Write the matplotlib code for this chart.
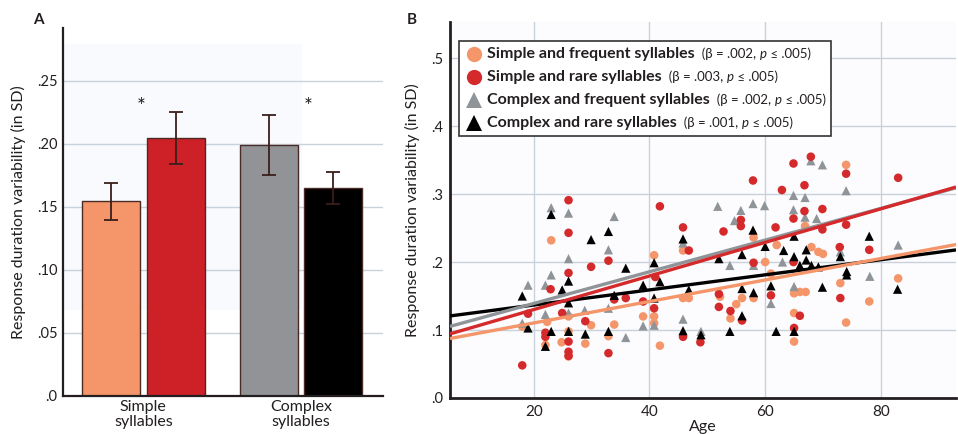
import numpy as np
import matplotlib
matplotlib.use("Agg")
import matplotlib.pyplot as plt
from matplotlib.patches import Rectangle
from matplotlib.lines import Line2D
from matplotlib.offsetbox import HPacker, VPacker, TextArea, DrawingArea, AnchoredOffsetbox

plt.rcParams['font.family'] = ['Lato', 'DejaVu Sans']

# ---------------- Panel A data ----------------
groups = ["Simple\nsyllables", "Complex\nsyllables"]
bar_means = [0.155, 0.205, 0.199, 0.165]
bar_err_low = [0.015, 0.021, 0.024, 0.013]
bar_err_high = [0.014, 0.020, 0.024, 0.013]
bar_colors = ["#f4956a", "#cd2027", "#929397", "#000000"]
a_yticks = [0.0, 0.05, 0.10, 0.15, 0.20, 0.25]
a_yticklabels = [".0", ".05", ".10", ".15", ".20", ".25"]

# ---------------- Panel B data (age, SD) ----------------
simple_frequent = [(18, .105), (23, .232), (22, .078), (22.3, .112), (24.8, .082), (26, .120), (26, .098),
                   (26, .061), (28.9, .080), (29.9, .107), (32.9, .091), (33.9, .108), (38.9, .120),
                   (40.8, .210), (40.8, .120), (40.8, .110), (41.8, .077), (45.8, .217), (45.8, .147),
                   (46.8, .147), (52.2, .149), (54, .117), (55, .138), (56, .147), (58, .236), (58, .147),
                   (60, .200), (61, .183), (62, .225), (65, .154), (65, .125), (65, .083), (66, .156),
                   (67, .156), (66.9, .253), (68, .222), (69.2, .215), (70, .212), (73, .169), (74, .343),
                   (74, .111), (78, .142), (83, .176)]
simple_rare = [(18, .048), (19, .124), (22.9, .160), (22, .096), (22, .090), (24.9, .125), (26, .291),
               (26, .243), (26, .184), (26, .083), (26, .068), (26, .062), (28.9, .113), (29.9, .193),
               (32.9, .202), (32.9, .066), (33.9, .145), (35.9, .147), (38.9, .142), (40.8, .132),
               (41, .178), (41.8, .282), (45.8, .251), (46.8, .217), (45.8, .090), (48.8, .082),
               (52, .153), (52, .134), (52.8, .245), (54, .128), (55.8, .262), (55.8, .253), (56, .114),
               (57.9, .320), (58, .199), (61, .151), (61.8, .251), (62.9, .306), (64.9, .345),
               (64.9, .264), (64.9, .200), (65, .103), (66, .121), (66.8, .313), (66.8, .275),
               (67.9, .355), (69.9, .278), (69.9, .248), (72.9, .222), (73, .147), (74, .330),
               (74, .255), (78, .218), (83, .324)]
complex_frequent = [(18, .110), (19, .166), (22, .166), (22, .123), (23, .181), (23, .280), (26, .272),
                    (26, .205), (26, .125), (28.8, .129), (32.9, .218), (32.9, .132), (33.9, .267),
                    (35.9, .089), (38.9, .106), (40.8, .107), (45.8, .116), (45.8, .228), (48.9, .098),
                    (51.8, .282), (53.9, .195), (54.7, .261), (55.8, .276), (57.9, .286), (58, .195),
                    (59.9, .283), (61, .139), (63, .200), (64.9, .298), (64.9, .277), (65, .164),
                    (66.9, .295), (66.9, .266), (67.9, .349), (68.9, .264), (69.9, .343), (73, .215),
                    (74, .305), (78.1, .179), (83, .225)]
complex_rare = [(18, .150), (19, .103), (23, .270), (22, .076), (23, .098), (24.9, .159), (26, .172),
                (26, .140), (26, .098), (28.9, .094), (29.9, .233), (32.9, .245), (32.9, .098),
                (33.9, .151), (35.9, .191), (38.9, .166), (40.8, .199), (40.8, .147), (41.8, .171),
                (45.8, .234), (45.8, .099), (46.8, .159), (48.9, .093), (52, .205), (53.9, .098),
                (56, .211), (56, .161), (56, .121), (57.9, .247), (58, .155), (60, .223), (61, .165),
                (61.9, .098), (63.2, .217), (65, .208), (65, .238), (65, .098), (66, .195), (67.1, .218),
                (67.1, .203), (68, .195), (69.2, .193), (69.9, .163), (73, .208), (74.1, .186),
                (74.1, .181), (78, .238), (82.9, .160)]

series_names = ["Simple and frequent syllables", "Simple and rare syllables",
                "Complex and frequent syllables", "Complex and rare syllables"]
series_betas = [".002", ".003", ".002", ".001"]
series_colors = ["#f4956a", "#d42a2c", "#8f9499", "#000000"]
series_markers = ["o", "o", "^", "^"]
fit_intercepts = [0.0788, 0.0807, 0.0925, 0.1146]
fit_slopes = [0.00158, 0.00247, 0.00233, 0.00111]
b_xticks = [20, 40, 60, 80]
b_yticks = [0.0, 0.1, 0.2, 0.3, 0.4, 0.5]
b_yticklabels = [".0", ".1", ".2", ".3", ".4", ".5"]

fig = plt.figure(figsize=(9.58, 4.34), dpi=100)
txtc = "#231f20"
gridc = "#c9d1da"

# ---------------- Panel A ----------------
axA = fig.add_axes([0.0658, 0.0876, 0.334, 0.848])
axA.set_xlim(-0.51, 1.522)
axA.set_ylim(0, 0.292)
axA.add_patch(Rectangle((-0.51, 0.068), 1.518, 0.211, facecolor="#f9fafd", edgecolor="none", zorder=0))
offs = [-0.205, 0.205]
bx = [g + o for g in range(len(groups)) for o in offs]
axA.bar(bx, bar_means, width=0.368, color=bar_colors, edgecolor="#4a2a25", linewidth=1.0, zorder=2)
axA.errorbar(bx, bar_means, yerr=[bar_err_low, bar_err_high], fmt="none", ecolor="#3a1f1a",
             elinewidth=1.3, capsize=5, capthick=1.3, zorder=3)
for gi in range(len(groups)):
    axA.text(gi + (-0.014 if gi == 0 else 0.044), 0.229, "*", ha="center", va="center",
             fontsize=15, color=txtc, zorder=4)
axA.set_yticks(a_yticks)
axA.set_yticklabels(a_yticklabels, fontsize=10.5, color=txtc)
axA.set_xticks(range(len(groups)))
axA.set_xticklabels(groups, fontsize=11.5, color=txtc, linespacing=1.05)
axA.tick_params(axis="y", length=0, pad=4)
axA.tick_params(axis="x", length=0, pad=3)
axA.yaxis.grid(True, color=gridc, linewidth=1.0, zorder=1)
axA.set_axisbelow(True)
for s in ["top", "right"]:
    axA.spines[s].set_visible(False)
for s in ["left", "bottom"]:
    axA.spines[s].set_color("#231f20")
    axA.spines[s].set_linewidth(1.6)
axA.set_ylabel("Response duration variability (in SD)", fontsize=11.5, color=txtc, labelpad=8)

# ---------------- Panel B ----------------
axB = fig.add_axes([0.4697, 0.083, 0.5282, 0.866])
axB.set_facecolor("#fcfcfe")
axB.set_xlim(5.5, 93)
axB.set_ylim(0, 0.553)
all_series = [simple_frequent, simple_rare, complex_frequent, complex_rare]
for idx in [0, 2, 1, 3]:
    pts = np.array(all_series[idx])
    axB.scatter(pts[:, 0], pts[:, 1], s=38 if series_markers[idx] == "o" else 44,
                marker=series_markers[idx], color=series_colors[idx], edgecolors="none", zorder=3)
xl = np.array(axB.get_xlim())
for idx in [3, 0, 2, 1]:
    axB.plot(xl, fit_intercepts[idx] + fit_slopes[idx] * xl, color=series_colors[idx],
             linewidth=2.4, zorder=4, solid_capstyle="butt")
axB.set_xticks(b_xticks)
axB.set_yticks(b_yticks)
axB.set_yticklabels(b_yticklabels, fontsize=10.5, color=txtc)
axB.set_xticklabels([str(v) for v in b_xticks], fontsize=11, color=txtc)
axB.tick_params(length=0, pad=5)
axB.grid(True, color=gridc, linewidth=1.0, zorder=1)
axB.set_axisbelow(True)
for s in ["top", "right"]:
    axB.spines[s].set_visible(False)
for s in ["left", "bottom"]:
    axB.spines[s].set_color("#231f20")
    axB.spines[s].set_linewidth(2.0)
axB.set_xlabel("Age", fontsize=11.5, color=txtc, labelpad=1)
axB.set_ylabel("Response duration variability (in SD)", fontsize=11.5, color=txtc, labelpad=8)

# legend built from text pieces
rows = []
for i in range(4):
    da = DrawingArea(15, 12, 0, 0)
    da.add_artist(Line2D([7.5], [6.0], marker=series_markers[i], color=series_colors[i],
                         markersize=11, linestyle="none", markeredgewidth=0))
    tb = TextArea(series_names[i], textprops=dict(fontsize=11.5, fontweight="bold", color=txtc))
    t2 = TextArea("  (β = " + series_betas[i] + ", ", textprops=dict(fontsize=9.5, color=txtc))
    t3 = TextArea("p", textprops=dict(fontsize=9.5, fontstyle="italic", color=txtc))
    t4 = TextArea(" ≤ .005)", textprops=dict(fontsize=9.5, color=txtc))
    txt = HPacker(children=[tb, t2, t3, t4], align="baseline", pad=0, sep=0)
    rows.append(HPacker(children=[da, txt], align="center", pad=0, sep=2))
vp = VPacker(children=rows, align="left", pad=0, sep=4.5)
leg = AnchoredOffsetbox(loc="upper left", child=vp, pad=0.35, borderpad=0, frameon=True,
                        bbox_to_anchor=(459 / 958, 1 - 41 / 434), bbox_transform=fig.transFigure)
leg.patch.set_edgecolor("#333333")
leg.patch.set_linewidth(1.2)
leg.patch.set_facecolor("white")
leg.set_zorder(10)
axB.add_artist(leg)

fig.text(38 / 958, 1 - 20 / 434, "A", fontsize=11, fontweight="bold", ha="center", va="center", color=txtc)
fig.text(412 / 958, 1 - 20 / 434, "B", fontsize=11, fontweight="bold", ha="center", va="center", color=txtc)

fig.savefig("out.png", dpi=100)
